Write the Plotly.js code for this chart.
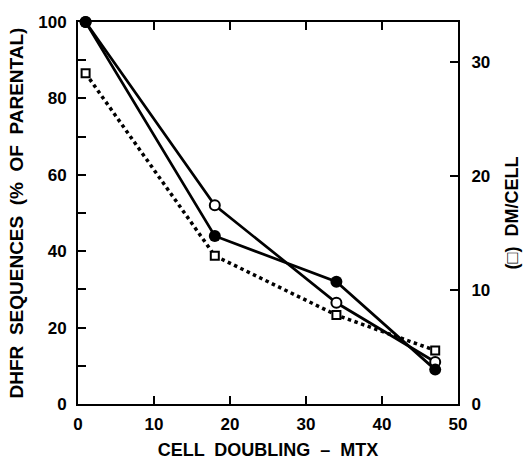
<!DOCTYPE html>
<html>
<head>
<meta charset="utf-8">
<script src="https://cdn.plot.ly/plotly-3.0.1.min.js"></script>
<style>html,body{margin:0;padding:0;background:#fff;}#chart{width:524px;height:460px;}</style>
</head>
<body>
<div id="chart"></div>
<script>
// Data
const cellDoublings = [1, 18, 34, 47];
const dhfrOpen = [100, 52, 26.5, 11];      // open circles (% of parental)
const dhfrFilled = [100, 44, 32, 9];       // filled circles (% of parental)
const dmPerCell = [29, 13, 7.8, 4.7];      // open squares (DM/cell, right axis)
const xTicks = [0, 10, 20, 30, 40, 50];
const yLeftTicks = [0, 20, 40, 60, 80, 100];
const yRightTicks = [0, 10, 20, 30];

const FONT = 'Liberation Sans, Arial, sans-serif';
const tickFont = {family: FONT, size: 17, color: '#000', weight: 'bold'};
const titleFont = {family: FONT, size: 18, color: '#000', weight: 'bold'};
const leftTitleFont = {family: FONT, size: 19, color: '#000', weight: 'bold'};

const traces = [
  {
    x: cellDoublings, y: dmPerCell, yaxis: 'y2', type: 'scatter', mode: 'lines+markers',
    line: {color: '#000', width: 3.5, dash: 'dot'},
    marker: {symbol: 'square', size: 8, color: '#fff', line: {color: '#000', width: 2}},
    showlegend: false, cliponaxis: false
  },
  {
    x: cellDoublings, y: dhfrOpen, type: 'scatter', mode: 'lines+markers',
    line: {color: '#000', width: 2.7},
    marker: {symbol: 'circle', size: 10, color: '#fff', line: {color: '#000', width: 2}},
    showlegend: false, cliponaxis: false
  },
  {
    x: cellDoublings, y: dhfrFilled, type: 'scatter', mode: 'lines+markers',
    line: {color: '#000', width: 2.7},
    marker: {symbol: 'circle', size: 12, color: '#000'},
    showlegend: false, cliponaxis: false
  }
];

const layout = {
  width: 524, height: 460,
  margin: {l: 78, r: 66, t: 22, b: 56},
  paper_bgcolor: '#fff', plot_bgcolor: '#fff',
  showlegend: false,
  xaxis: {
    range: [0, 50], tickvals: xTicks, ticktext: xTicks.map(String),
    ticks: 'inside', ticklen: 8, tickwidth: 2, tickcolor: '#000',
    showline: true, linewidth: 2, linecolor: '#000', mirror: 'ticks',
    showgrid: false, zeroline: false, tickfont: tickFont, ticklabelstandoff: 4,
    title: {text: 'CELL  DOUBLING  –  MTX', font: titleFont, standoff: 14}
  },
  yaxis: {
    range: [0, 100], tickvals: yLeftTicks, ticktext: yLeftTicks.map(String),
    ticks: 'inside', ticklen: 8, tickwidth: 2, tickcolor: '#000',
    minor: {dtick: 10, ticks: 'inside', ticklen: 8, tickwidth: 2, tickcolor: '#000', showgrid: false},
    showline: true, linewidth: 2, linecolor: '#000',
    showgrid: false, zeroline: false, tickfont: tickFont, ticklabelstandoff: 6,
    title: {text: 'DHFR  SEQUENCES  (%  OF  PARENTAL)', font: leftTitleFont, standoff: 10}
  },
  yaxis2: {
    overlaying: 'y', side: 'right',
    range: [0, 33.5], tickvals: yRightTicks, ticktext: yRightTicks.map(String),
    ticks: 'inside', ticklen: 8, tickwidth: 2, tickcolor: '#000',
    showline: true, linewidth: 2, linecolor: '#000',
    showgrid: false, zeroline: false, tickfont: tickFont, ticklabelstandoff: 8,
    title: {text: '(□)  DM/CELL', font: titleFont, standoff: 16}
  }
};

Plotly.newPlot('chart', traces, layout, {staticPlot: true, displayModeBar: false});
</script>
</body>
</html>
